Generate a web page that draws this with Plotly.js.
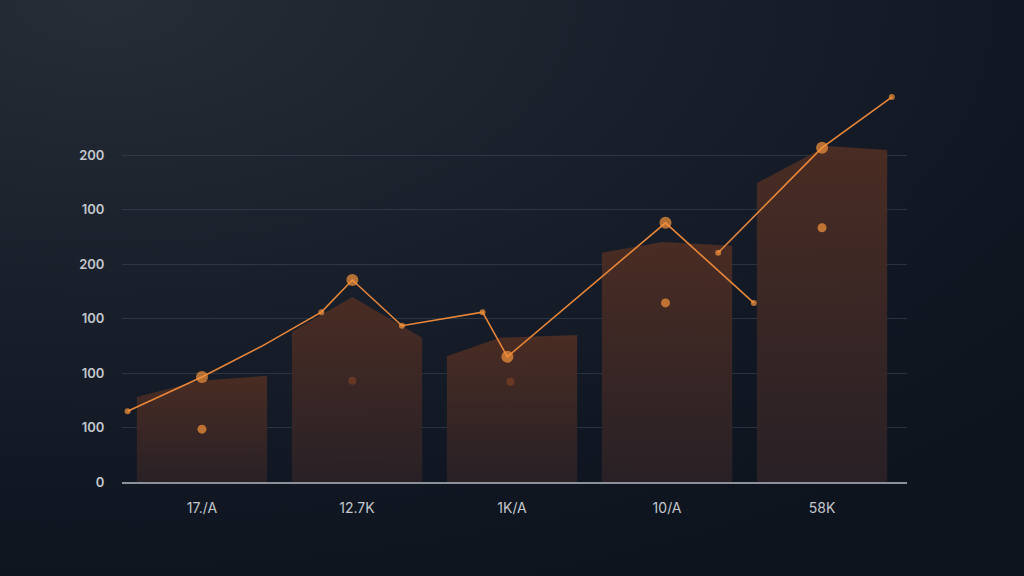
<!DOCTYPE html>
<html>
<head>
<meta charset="utf-8">
<script src="https://cdn.plot.ly/plotly-3.0.1.min.js"></script>
<style>
  html, body { margin: 0; padding: 0; width: 1024px; height: 576px; overflow: hidden; }
  body { background: radial-gradient(ellipse 120% 110% at 10% 0%, #272d37 0%, #19202b 45%, #101722 80%, #0d141e 100%); }
  #chart { width: 1024px; height: 576px; }
</style>
</head>
<body>
<div id="chart"></div>
<script>
// Categories and tick labels
const categories = ["17./A", "12.7K", "1K/A", "10/A", "58K"];
const yTickVals = [0, 1, 2, 3, 4, 5, 6];
const yTickText = ["0", "100", "100", "100", "200", "100", "200"];

// Bar polygon tops (left edge, peak, right edge) and peak offsets from category centre
const barLeftTop  = [1.56, 2.76, 2.31, 4.21, 5.49];
const barPeakTop  = [1.86, 3.40, 2.65, 4.41, 6.17];
const barRightTop = [1.95, 2.65, 2.70, 4.34, 6.10];
const barPeakOffset = [-0.01, -0.03, -0.08, -0.03, 0.03];

// Line series (null breaks the line)
const lineX = [-0.48, 0.0, 0.39, 0.77, 0.97, 1.29, 1.81, 1.97, 2.99, 3.56, null, 3.33, 4.0, 4.45];
const lineY = [1.30, 1.93, 2.50, 3.12, 3.71, 2.87, 3.12, 2.30, 4.76, 3.29, null, 4.21, 6.14, 7.07];
// marker kind per point: 2 = large, 1 = small, 0 = none (bend only)
const lineMarkerKind = [1, 2, 0, 1, 2, 1, 1, 2, 2, 1, 0, 1, 2, 1];

// Standalone dots
const dotX = [0, 0.97, 1.99, 2.99, 4.0];
const dotY = [0.97, 1.86, 1.84, 3.29, 4.67];
const dotDim = [false, true, true, false, false];

const halfW = 0.42;
const traces = [];

categories.forEach((c, i) => {
  traces.push({
    type: 'scatter',
    mode: 'lines',
    x: [i - halfW, i - halfW, i + barPeakOffset[i], i + halfW, i + halfW, i - halfW],
    y: [0, barLeftTop[i], barPeakTop[i], barRightTop[i], 0, 0],
    fill: 'toself',
    fillcolor: '#45291f',
    fillgradient: {
      type: 'vertical',
      colorscale: [[0, 'rgba(42,33,38,0.95)'], [1, 'rgba(76,45,35,0.95)']]
    },
    line: { width: 0, color: 'rgba(0,0,0,0)' },
    hoverinfo: 'skip',
    showlegend: false
  });
});

traces.push({
  type: 'scatter',
  mode: 'lines+markers',
  x: lineX,
  y: lineY,
  connectgaps: false,
  line: { color: '#e8863a', width: 1.6 },
  marker: {
    color: '#f7933a',
    size: lineMarkerKind.map(k => k === 2 ? 12 : (k === 1 ? 6 : 0)),
    line: { width: 0 }
  },
  showlegend: false
});

traces.push({
  type: 'scatter',
  mode: 'markers',
  x: dotX,
  y: dotY,
  marker: {
    color: dotDim.map(d => d ? '#7a3f26' : '#f7933a'),
    size: dotDim.map(d => d ? 8 : 9),
    line: { width: 0 }
  },
  showlegend: false
});

const layout = {
  width: 1024,
  height: 576,
  margin: { l: 122, r: 117, t: 90, b: 94 },
  paper_bgcolor: 'rgba(0,0,0,0)',
  plot_bgcolor: 'rgba(0,0,0,0)',
  showlegend: false,
  xaxis: {
    range: [-0.516, 4.548],
    tickvals: categories.map((c, i) => i),
    ticktext: categories,
    showgrid: false,
    zeroline: false,
    showline: true,
    linecolor: '#8b909a',
    linewidth: 2,
    ticks: 'outside',
    ticklen: 12,
    tickcolor: 'rgba(0,0,0,0)',
    tickfont: { family: 'Inter, "Noto Sans", sans-serif', size: 14, color: '#c3c7cd' },
    fixedrange: true
  },
  yaxis: {
    range: [0, 7.2],
    tickvals: yTickVals,
    ticktext: yTickText,
    showgrid: true,
    gridcolor: 'rgba(70,82,98,0.45)',
    gridwidth: 1,
    zeroline: false,
    showline: false,
    ticks: 'outside',
    ticklen: 14,
    tickcolor: 'rgba(0,0,0,0)',
    tickfont: { family: 'Inter, "Noto Sans", sans-serif', size: 13, color: '#c3c7cd', weight: 600 },
    fixedrange: true
  }
};

Plotly.newPlot('chart', traces, layout, { displayModeBar: false, staticPlot: true });
</script>
</body>
</html>
